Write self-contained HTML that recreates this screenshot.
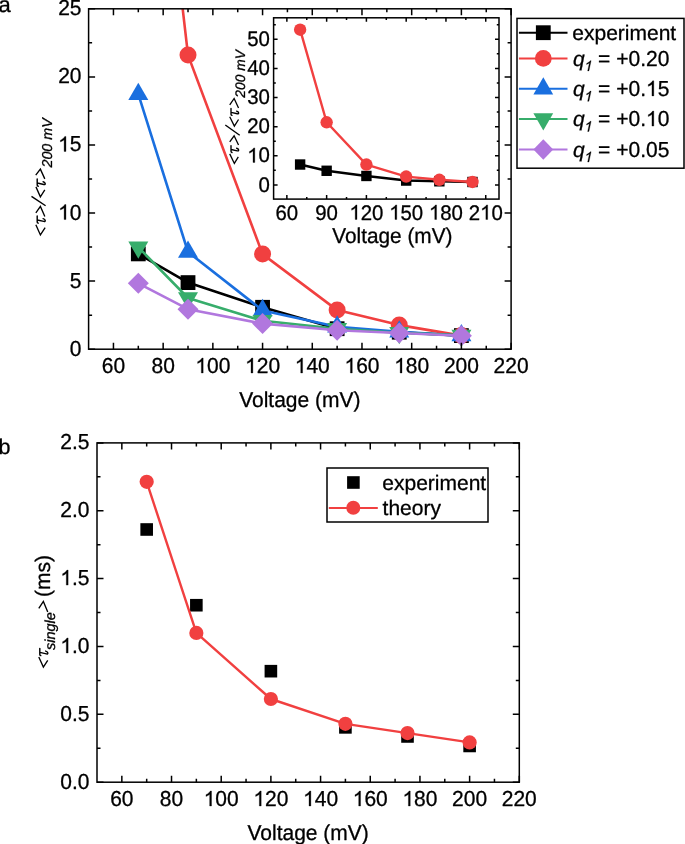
<!DOCTYPE html><html><head><meta charset="utf-8"><style>html,body{margin:0;padding:0;background:#fff;overflow:hidden}svg{display:block}</style></head><body>
<svg style="will-change:transform" width="685" height="844" viewBox="0 0 685 844" font-family='"Liberation Sans", sans-serif' text-rendering="geometricPrecision">
<style>text{stroke:#000;stroke-width:0.3px;stroke-linejoin:round}.o{stroke:#000;stroke-width:0.3px;stroke-linejoin:round}</style>
<rect width="685" height="844" fill="#fff"/>
<defs><clipPath id="ca"><rect x="88.6" y="8.8" width="422.5" height="340.4"/></clipPath></defs>
<g clip-path="url(#ca)">
<polyline points="138.31,253.89 188.01,282.6 262.57,307.3 337.13,328.7 399.26,332.2 461.39,335.6" fill="none" stroke="#000" stroke-width="2.6" stroke-linejoin="round" stroke-linecap="butt"/>
<rect x="130.91" y="246.49" width="14.8" height="14.8" fill="#000"/>
<rect x="180.61" y="275.2" width="14.8" height="14.8" fill="#000"/>
<rect x="255.17" y="299.9" width="14.8" height="14.8" fill="#000"/>
<rect x="329.73" y="321.3" width="14.8" height="14.8" fill="#000"/>
<rect x="391.86" y="324.8" width="14.8" height="14.8" fill="#000"/>
<rect x="453.99" y="328.2" width="14.8" height="14.8" fill="#000"/>
<polyline points="138.31,-376.53 188.01,55.1 262.57,254.1 337.13,310.1 399.26,325.1 461.39,335.6" fill="none" stroke="#F14040" stroke-width="2.6" stroke-linejoin="round" stroke-linecap="butt"/>
<circle cx="138.31" cy="-376.53" r="8.5" fill="#F14040"/>
<circle cx="188.01" cy="55.1" r="8.5" fill="#F14040"/>
<circle cx="262.57" cy="254.1" r="8.5" fill="#F14040"/>
<circle cx="337.13" cy="310.1" r="8.5" fill="#F14040"/>
<circle cx="399.26" cy="325.1" r="8.5" fill="#F14040"/>
<circle cx="461.39" cy="335.6" r="8.5" fill="#F14040"/>
<polyline points="138.31,94.2 188.01,252 262.57,310.4 337.13,326.7 399.26,331.7 461.39,335.6" fill="none" stroke="#1A6FDF" stroke-width="2.6" stroke-linejoin="round" stroke-linecap="butt"/>
<path d="M138.31 82.65L148.31 99.97L128.31 99.97Z" fill="#1A6FDF"/>
<path d="M188.01 240.45L198.01 257.77L178.01 257.77Z" fill="#1A6FDF"/>
<path d="M262.57 298.85L272.57 316.17L252.57 316.17Z" fill="#1A6FDF"/>
<path d="M337.13 315.15L347.13 332.47L327.13 332.47Z" fill="#1A6FDF"/>
<path d="M399.26 320.15L409.26 337.47L389.26 337.47Z" fill="#1A6FDF"/>
<path d="M461.39 324.05L471.39 341.37L451.39 341.37Z" fill="#1A6FDF"/>
<polyline points="138.31,247.2 188.01,298 262.57,320.8 337.13,328.8 399.26,332.8 461.39,335.4" fill="none" stroke="#37AD6B" stroke-width="2.6" stroke-linejoin="round" stroke-linecap="butt"/>
<path d="M138.31 258.75L148.31 241.43L128.31 241.43Z" fill="#37AD6B"/>
<path d="M188.01 309.55L198.01 292.23L178.01 292.23Z" fill="#37AD6B"/>
<path d="M262.57 332.35L272.57 315.03L252.57 315.03Z" fill="#37AD6B"/>
<path d="M337.13 340.35L347.13 323.03L327.13 323.03Z" fill="#37AD6B"/>
<path d="M399.26 344.35L409.26 327.03L389.26 327.03Z" fill="#37AD6B"/>
<path d="M461.39 346.95L471.39 329.63L451.39 329.63Z" fill="#37AD6B"/>
<polyline points="138.31,283.3 188.01,309.2 262.57,323.6 337.13,330.3 399.26,333 461.39,335.8" fill="none" stroke="#B177DE" stroke-width="2.6" stroke-linejoin="round" stroke-linecap="butt"/>
<path d="M138.31 272.8L148.81 283.3L138.31 293.8L127.81 283.3Z" fill="#B177DE"/>
<path d="M188.01 298.7L198.51 309.2L188.01 319.7L177.51 309.2Z" fill="#B177DE"/>
<path d="M262.57 313.1L273.07 323.6L262.57 334.1L252.07 323.6Z" fill="#B177DE"/>
<path d="M337.13 319.8L347.63 330.3L337.13 340.8L326.63 330.3Z" fill="#B177DE"/>
<path d="M399.26 322.5L409.76 333L399.26 343.5L388.76 333Z" fill="#B177DE"/>
<path d="M461.39 325.3L471.89 335.8L461.39 346.3L450.89 335.8Z" fill="#B177DE"/>
</g>
<rect x="88.6" y="8.8" width="422.5" height="340.4" fill="none" stroke="#000" stroke-width="1.5"/>
<path d="M113.45 349.2V342.7M113.45 8.8V15.3M163.16 349.2V342.7M163.16 8.8V15.3M212.86 349.2V342.7M212.86 8.8V15.3M262.57 349.2V342.7M262.57 8.8V15.3M312.28 349.2V342.7M312.28 8.8V15.3M361.98 349.2V342.7M361.98 8.8V15.3M411.69 349.2V342.7M411.69 8.8V15.3M461.39 349.2V342.7M461.39 8.8V15.3M511.1 349.2V342.7M511.1 8.8V15.3M138.31 349.2V345.7M138.31 8.8V12.3M188.01 349.2V345.7M188.01 8.8V12.3M237.72 349.2V345.7M237.72 8.8V12.3M287.42 349.2V345.7M287.42 8.8V12.3M337.13 349.2V345.7M337.13 8.8V12.3M386.84 349.2V345.7M386.84 8.8V12.3M436.54 349.2V345.7M436.54 8.8V12.3M486.25 349.2V345.7M486.25 8.8V12.3M88.6 349.2H95.1M511.1 349.2H504.6M88.6 281.12H95.1M511.1 281.12H504.6M88.6 213.04H95.1M511.1 213.04H504.6M88.6 144.96H95.1M511.1 144.96H504.6M88.6 76.88H95.1M511.1 76.88H504.6M88.6 8.8H95.1M511.1 8.8H504.6M88.6 315.16H92.1M511.1 315.16H507.6M88.6 247.08H92.1M511.1 247.08H507.6M88.6 179H92.1M511.1 179H507.6M88.6 110.92H92.1M511.1 110.92H507.6M88.6 42.84H92.1M511.1 42.84H507.6" stroke="#000" stroke-width="1.5" fill="none"/>
<g transform="translate(0 373) scale(1 1.035) translate(0 -373)">
<text x="101.77" y="373" font-size="21" xml:space="preserve">60</text>
</g>
<g transform="translate(0 373) scale(1 1.035) translate(0 -373)">
<text x="151.48" y="373" font-size="21" xml:space="preserve">80</text>
</g>
<g transform="translate(0 373) scale(1 1.035) translate(0 -373)">
<text x="195.35" y="373" font-size="21" xml:space="preserve"> 00</text>
</g>
<path d="M583 1147Q518 1085 412.5 1023Q307 961 223 930L223 1104Q374 1175 486 1274Q598 1373 646 1466L763 1466L763 0L583 0Z" transform="translate(195.35 373) scale(0.01025 -0.01025)" fill="#000" class="o" vector-effect="non-scaling-stroke"/>
<g transform="translate(0 373) scale(1 1.035) translate(0 -373)">
<text x="245.05" y="373" font-size="21" xml:space="preserve"> 20</text>
</g>
<path d="M583 1147Q518 1085 412.5 1023Q307 961 223 930L223 1104Q374 1175 486 1274Q598 1373 646 1466L763 1466L763 0L583 0Z" transform="translate(245.05 373) scale(0.01025 -0.01025)" fill="#000" class="o" vector-effect="non-scaling-stroke"/>
<g transform="translate(0 373) scale(1 1.035) translate(0 -373)">
<text x="294.76" y="373" font-size="21" xml:space="preserve"> 40</text>
</g>
<path d="M583 1147Q518 1085 412.5 1023Q307 961 223 930L223 1104Q374 1175 486 1274Q598 1373 646 1466L763 1466L763 0L583 0Z" transform="translate(294.76 373) scale(0.01025 -0.01025)" fill="#000" class="o" vector-effect="non-scaling-stroke"/>
<g transform="translate(0 373) scale(1 1.035) translate(0 -373)">
<text x="344.46" y="373" font-size="21" xml:space="preserve"> 60</text>
</g>
<path d="M583 1147Q518 1085 412.5 1023Q307 961 223 930L223 1104Q374 1175 486 1274Q598 1373 646 1466L763 1466L763 0L583 0Z" transform="translate(344.46 373) scale(0.01025 -0.01025)" fill="#000" class="o" vector-effect="non-scaling-stroke"/>
<g transform="translate(0 373) scale(1 1.035) translate(0 -373)">
<text x="394.17" y="373" font-size="21" xml:space="preserve"> 80</text>
</g>
<path d="M583 1147Q518 1085 412.5 1023Q307 961 223 930L223 1104Q374 1175 486 1274Q598 1373 646 1466L763 1466L763 0L583 0Z" transform="translate(394.17 373) scale(0.01025 -0.01025)" fill="#000" class="o" vector-effect="non-scaling-stroke"/>
<g transform="translate(0 373) scale(1 1.035) translate(0 -373)">
<text x="443.88" y="373" font-size="21" xml:space="preserve">200</text>
</g>
<g transform="translate(0 373) scale(1 1.035) translate(0 -373)">
<text x="493.58" y="373" font-size="21" xml:space="preserve">220</text>
</g>
<g transform="translate(0 355.7) scale(1 1.035) translate(0 -355.7)">
<text x="69.82" y="355.7" font-size="21" xml:space="preserve">0</text>
</g>
<g transform="translate(0 287.62) scale(1 1.035) translate(0 -287.62)">
<text x="69.82" y="287.62" font-size="21" xml:space="preserve">5</text>
</g>
<g transform="translate(0 219.54) scale(1 1.035) translate(0 -219.54)">
<text x="58.14" y="219.54" font-size="21" xml:space="preserve"> 0</text>
</g>
<path d="M583 1147Q518 1085 412.5 1023Q307 961 223 930L223 1104Q374 1175 486 1274Q598 1373 646 1466L763 1466L763 0L583 0Z" transform="translate(58.14 219.54) scale(0.01025 -0.01025)" fill="#000" class="o" vector-effect="non-scaling-stroke"/>
<g transform="translate(0 151.46) scale(1 1.035) translate(0 -151.46)">
<text x="58.14" y="151.46" font-size="21" xml:space="preserve"> 5</text>
</g>
<path d="M583 1147Q518 1085 412.5 1023Q307 961 223 930L223 1104Q374 1175 486 1274Q598 1373 646 1466L763 1466L763 0L583 0Z" transform="translate(58.14 151.46) scale(0.01025 -0.01025)" fill="#000" class="o" vector-effect="non-scaling-stroke"/>
<g transform="translate(0 83.38) scale(1 1.035) translate(0 -83.38)">
<text x="58.14" y="83.38" font-size="21" xml:space="preserve">20</text>
</g>
<g transform="translate(0 15.3) scale(1 1.035) translate(0 -15.3)">
<text x="58.14" y="15.3" font-size="21" xml:space="preserve">25</text>
</g>
<g transform="translate(0 406.5) scale(1 1.03) translate(0 -406.5)">
<text x="299.85" y="406.5" font-size="21" text-anchor="middle">Voltage (mV)</text>
</g>
<rect x="273.6" y="17.8" width="225.39999999999998" height="181.29999999999998" fill="#fff"/>
<polyline points="300.12,164.52 326.64,170.78 366.41,175.96 406.19,180.56 439.34,181.29 472.48,181.99" fill="none" stroke="#000" stroke-width="2.4" stroke-linejoin="round" stroke-linecap="butt"/>
<rect x="294.92" y="159.32" width="10.4" height="10.4" fill="#000"/>
<rect x="321.44" y="165.58" width="10.4" height="10.4" fill="#000"/>
<rect x="361.21" y="170.76" width="10.4" height="10.4" fill="#000"/>
<rect x="400.99" y="175.36" width="10.4" height="10.4" fill="#000"/>
<rect x="434.14" y="176.09" width="10.4" height="10.4" fill="#000"/>
<rect x="467.28" y="176.79" width="10.4" height="10.4" fill="#000"/>
<polyline points="300.12,29.69 326.64,122.29 366.41,164.57 406.19,176.57 439.34,179.8 472.48,181.99" fill="none" stroke="#F14040" stroke-width="2.4" stroke-linejoin="round" stroke-linecap="butt"/>
<circle cx="300.12" cy="29.69" r="6.2" fill="#F14040"/>
<circle cx="326.64" cy="122.29" r="6.2" fill="#F14040"/>
<circle cx="366.41" cy="164.57" r="6.2" fill="#F14040"/>
<circle cx="406.19" cy="176.57" r="6.2" fill="#F14040"/>
<circle cx="439.34" cy="179.8" r="6.2" fill="#F14040"/>
<circle cx="472.48" cy="181.99" r="6.2" fill="#F14040"/>
<rect x="273.6" y="17.8" width="225.4" height="181.3" fill="none" stroke="#000" stroke-width="1.5"/>
<path d="M286.86 199.1V195.1M286.86 17.8V21.8M326.64 199.1V195.1M326.64 17.8V21.8M366.41 199.1V195.1M366.41 17.8V21.8M406.19 199.1V195.1M406.19 17.8V21.8M445.96 199.1V195.1M445.96 17.8V21.8M485.74 199.1V195.1M485.74 17.8V21.8M306.75 199.1V196.9M306.75 17.8V20M346.52 199.1V196.9M346.52 17.8V20M386.3 199.1V196.9M386.3 17.8V20M426.08 199.1V196.9M426.08 17.8V20M465.85 199.1V196.9M465.85 17.8V20M273.6 184.9H277.6M499 184.9H495M273.6 155.78H277.6M499 155.78H495M273.6 126.66H277.6M499 126.66H495M273.6 97.54H277.6M499 97.54H495M273.6 68.42H277.6M499 68.42H495M273.6 39.3H277.6M499 39.3H495M273.6 170.34H275.8M499 170.34H496.8M273.6 141.22H275.8M499 141.22H496.8M273.6 112.1H275.8M499 112.1H496.8M273.6 82.98H275.8M499 82.98H496.8M273.6 53.86H275.8M499 53.86H496.8M273.6 24.74H275.8M499 24.74H496.8" stroke="#000" stroke-width="1.5" fill="none"/>
<g transform="translate(0 219.5) scale(1 1.035) translate(0 -219.5)">
<text x="275.51" y="219.5" font-size="20.4" xml:space="preserve">60</text>
</g>
<g transform="translate(0 219.5) scale(1 1.035) translate(0 -219.5)">
<text x="315.29" y="219.5" font-size="20.4" xml:space="preserve">90</text>
</g>
<g transform="translate(0 219.5) scale(1 1.035) translate(0 -219.5)">
<text x="349.39" y="219.5" font-size="20.4" xml:space="preserve"> 20</text>
</g>
<path d="M583 1147Q518 1085 412.5 1023Q307 961 223 930L223 1104Q374 1175 486 1274Q598 1373 646 1466L763 1466L763 0L583 0Z" transform="translate(349.39 219.5) scale(0.00996 -0.00996)" fill="#000" class="o" vector-effect="non-scaling-stroke"/>
<g transform="translate(0 219.5) scale(1 1.035) translate(0 -219.5)">
<text x="389.17" y="219.5" font-size="20.4" xml:space="preserve"> 50</text>
</g>
<path d="M583 1147Q518 1085 412.5 1023Q307 961 223 930L223 1104Q374 1175 486 1274Q598 1373 646 1466L763 1466L763 0L583 0Z" transform="translate(389.17 219.5) scale(0.00996 -0.00996)" fill="#000" class="o" vector-effect="non-scaling-stroke"/>
<g transform="translate(0 219.5) scale(1 1.035) translate(0 -219.5)">
<text x="428.95" y="219.5" font-size="20.4" xml:space="preserve"> 80</text>
</g>
<path d="M583 1147Q518 1085 412.5 1023Q307 961 223 930L223 1104Q374 1175 486 1274Q598 1373 646 1466L763 1466L763 0L583 0Z" transform="translate(428.95 219.5) scale(0.00996 -0.00996)" fill="#000" class="o" vector-effect="non-scaling-stroke"/>
<g transform="translate(0 219.5) scale(1 1.035) translate(0 -219.5)">
<text x="468.72" y="219.5" font-size="20.4" xml:space="preserve">2 0</text>
</g>
<path d="M583 1147Q518 1085 412.5 1023Q307 961 223 930L223 1104Q374 1175 486 1274Q598 1373 646 1466L763 1466L763 0L583 0Z" transform="translate(480.07 219.5) scale(0.00996 -0.00996)" fill="#000" class="o" vector-effect="non-scaling-stroke"/>
<g transform="translate(0 191.6) scale(1 1.035) translate(0 -191.6)">
<text x="258.55" y="191.6" font-size="20.4" xml:space="preserve">0</text>
</g>
<g transform="translate(0 162.48) scale(1 1.035) translate(0 -162.48)">
<text x="247.21" y="162.48" font-size="20.4" xml:space="preserve"> 0</text>
</g>
<path d="M583 1147Q518 1085 412.5 1023Q307 961 223 930L223 1104Q374 1175 486 1274Q598 1373 646 1466L763 1466L763 0L583 0Z" transform="translate(247.21 162.48) scale(0.00996 -0.00996)" fill="#000" class="o" vector-effect="non-scaling-stroke"/>
<g transform="translate(0 133.36) scale(1 1.035) translate(0 -133.36)">
<text x="247.21" y="133.36" font-size="20.4" xml:space="preserve">20</text>
</g>
<g transform="translate(0 104.24) scale(1 1.035) translate(0 -104.24)">
<text x="247.21" y="104.24" font-size="20.4" xml:space="preserve">30</text>
</g>
<g transform="translate(0 75.12) scale(1 1.035) translate(0 -75.12)">
<text x="247.21" y="75.12" font-size="20.4" xml:space="preserve">40</text>
</g>
<g transform="translate(0 46) scale(1 1.035) translate(0 -46)">
<text x="247.21" y="46" font-size="20.4" xml:space="preserve">50</text>
</g>
<g transform="translate(0 242.9) scale(1 1.03) translate(0 -242.9)">
<text x="392.4" y="242.9" font-size="20.8" text-anchor="middle">Voltage (mV)</text>
</g>
<rect x="517" y="18.4" width="167" height="149.8" fill="#fff" stroke="#000" stroke-width="1.5"/>
<line x1="518.9" y1="32.7" x2="567.5" y2="32.7" stroke="#000" stroke-width="2"/>
<rect x="535.9" y="25.3" width="14.8" height="14.8" fill="#000"/>
<text x="572.3" y="39.8" font-size="21" text-anchor="start">experiment</text>
<line x1="518.9" y1="58.4" x2="567.5" y2="58.4" stroke="#F14040" stroke-width="2"/>
<circle cx="543.3" cy="58.4" r="8.4" fill="#F14040"/>
<text x="573" y="65.5" font-size="21" text-anchor="start" font-style="italic">q</text>
<path d="M583 1147Q518 1085 412.5 1023Q307 961 223 930L223 1104Q374 1175 486 1274Q598 1373 646 1466L763 1466L763 0L583 0Z" transform="translate(583.6 70.9) skewX(-12) scale(0.00698 -0.00698)" fill="#000" class="o" vector-effect="non-scaling-stroke"/>
<g transform="translate(0 65.5) scale(1 1.035) translate(0 -65.5)">
<text x="598.1" y="65.5" font-size="21" xml:space="preserve">= +0.20</text>
</g>
<line x1="518.9" y1="88.8" x2="567.5" y2="88.8" stroke="#1A6FDF" stroke-width="2"/>
<path d="M543.3 77.37L553.2 94.52L533.4 94.52Z" fill="#1A6FDF"/>
<text x="573" y="95.9" font-size="21" text-anchor="start" font-style="italic">q</text>
<path d="M583 1147Q518 1085 412.5 1023Q307 961 223 930L223 1104Q374 1175 486 1274Q598 1373 646 1466L763 1466L763 0L583 0Z" transform="translate(583.6 101.3) skewX(-12) scale(0.00698 -0.00698)" fill="#000" class="o" vector-effect="non-scaling-stroke"/>
<g transform="translate(0 95.9) scale(1 1.035) translate(0 -95.9)">
<text x="598.1" y="95.9" font-size="21" xml:space="preserve">= +0. 5</text>
</g>
<path d="M583 1147Q518 1085 412.5 1023Q307 961 223 930L223 1104Q374 1175 486 1274Q598 1373 646 1466L763 1466L763 0L583 0Z" transform="translate(645.98 95.9) scale(0.01025 -0.01025)" fill="#000" class="o" vector-effect="non-scaling-stroke"/>
<line x1="518.9" y1="119.0" x2="567.5" y2="119.0" stroke="#37AD6B" stroke-width="2"/>
<path d="M543.3 130.43L553.2 113.28L533.4 113.28Z" fill="#37AD6B"/>
<text x="573" y="126.1" font-size="21" text-anchor="start" font-style="italic">q</text>
<path d="M583 1147Q518 1085 412.5 1023Q307 961 223 930L223 1104Q374 1175 486 1274Q598 1373 646 1466L763 1466L763 0L583 0Z" transform="translate(583.6 131.5) skewX(-12) scale(0.00698 -0.00698)" fill="#000" class="o" vector-effect="non-scaling-stroke"/>
<g transform="translate(0 126.1) scale(1 1.035) translate(0 -126.1)">
<text x="598.1" y="126.1" font-size="21" xml:space="preserve">= +0. 0</text>
</g>
<path d="M583 1147Q518 1085 412.5 1023Q307 961 223 930L223 1104Q374 1175 486 1274Q598 1373 646 1466L763 1466L763 0L583 0Z" transform="translate(645.98 126.1) scale(0.01025 -0.01025)" fill="#000" class="o" vector-effect="non-scaling-stroke"/>
<line x1="518.9" y1="149.5" x2="567.5" y2="149.5" stroke="#B177DE" stroke-width="2"/>
<path d="M543.3 139.2L553.2 149.5L543.3 159.8L533.4 149.5Z" fill="#B177DE"/>
<text x="573" y="156.6" font-size="21" text-anchor="start" font-style="italic">q</text>
<path d="M583 1147Q518 1085 412.5 1023Q307 961 223 930L223 1104Q374 1175 486 1274Q598 1373 646 1466L763 1466L763 0L583 0Z" transform="translate(583.6 162) skewX(-12) scale(0.00698 -0.00698)" fill="#000" class="o" vector-effect="non-scaling-stroke"/>
<g transform="translate(0 156.6) scale(1 1.035) translate(0 -156.6)">
<text x="598.1" y="156.6" font-size="21" xml:space="preserve">= +0.05</text>
</g>
<rect x="140.38" y="523.19" width="12.6" height="12.6" fill="#000"/>
<rect x="190.06" y="598.92" width="12.6" height="12.6" fill="#000"/>
<rect x="264.59" y="664.88" width="12.6" height="12.6" fill="#000"/>
<rect x="339.11" y="721.07" width="12.6" height="12.6" fill="#000"/>
<rect x="401.21" y="730.16" width="12.6" height="12.6" fill="#000"/>
<rect x="463.32" y="739.66" width="12.6" height="12.6" fill="#000"/>
<polyline points="146.68,481.85 196.36,632.91 270.89,699 345.41,723.84 407.51,733.07 469.62,742.43" fill="none" stroke="#F14040" stroke-width="2.4" stroke-linejoin="round" stroke-linecap="butt"/>
<circle cx="146.68" cy="481.85" r="7.1" fill="#F14040"/>
<circle cx="196.36" cy="632.91" r="7.1" fill="#F14040"/>
<circle cx="270.89" cy="699" r="7.1" fill="#F14040"/>
<circle cx="345.41" cy="723.84" r="7.1" fill="#F14040"/>
<circle cx="407.51" cy="733.07" r="7.1" fill="#F14040"/>
<circle cx="469.62" cy="742.43" r="7.1" fill="#F14040"/>
<rect x="97" y="442.9" width="422.3" height="339.3" fill="none" stroke="#000" stroke-width="1.5"/>
<path d="M121.84 782.2V775.7M121.84 442.9V449.4M171.52 782.2V775.7M171.52 442.9V449.4M221.21 782.2V775.7M221.21 442.9V449.4M270.89 782.2V775.7M270.89 442.9V449.4M320.57 782.2V775.7M320.57 442.9V449.4M370.25 782.2V775.7M370.25 442.9V449.4M419.94 782.2V775.7M419.94 442.9V449.4M469.62 782.2V775.7M469.62 442.9V449.4M519.3 782.2V775.7M519.3 442.9V449.4M146.68 782.2V778.7M146.68 442.9V446.4M196.36 782.2V778.7M196.36 442.9V446.4M246.05 782.2V778.7M246.05 442.9V446.4M295.73 782.2V778.7M295.73 442.9V446.4M345.41 782.2V778.7M345.41 442.9V446.4M395.09 782.2V778.7M395.09 442.9V446.4M444.78 782.2V778.7M444.78 442.9V446.4M494.46 782.2V778.7M494.46 442.9V446.4M97 782.2H103.5M519.3 782.2H512.8M97 714.34H103.5M519.3 714.34H512.8M97 646.48H103.5M519.3 646.48H512.8M97 578.62H103.5M519.3 578.62H512.8M97 510.76H103.5M519.3 510.76H512.8M97 442.9H103.5M519.3 442.9H512.8M97 748.27H100.5M519.3 748.27H515.8M97 680.41H100.5M519.3 680.41H515.8M97 612.55H100.5M519.3 612.55H515.8M97 544.69H100.5M519.3 544.69H515.8M97 476.83H100.5M519.3 476.83H515.8" stroke="#000" stroke-width="1.5" fill="none"/>
<g transform="translate(0 806) scale(1 1.035) translate(0 -806)">
<text x="110.16" y="806" font-size="21" xml:space="preserve">60</text>
</g>
<g transform="translate(0 806) scale(1 1.035) translate(0 -806)">
<text x="159.84" y="806" font-size="21" xml:space="preserve">80</text>
</g>
<g transform="translate(0 806) scale(1 1.035) translate(0 -806)">
<text x="203.69" y="806" font-size="21" xml:space="preserve"> 00</text>
</g>
<path d="M583 1147Q518 1085 412.5 1023Q307 961 223 930L223 1104Q374 1175 486 1274Q598 1373 646 1466L763 1466L763 0L583 0Z" transform="translate(203.69 806) scale(0.01025 -0.01025)" fill="#000" class="o" vector-effect="non-scaling-stroke"/>
<g transform="translate(0 806) scale(1 1.035) translate(0 -806)">
<text x="253.37" y="806" font-size="21" xml:space="preserve"> 20</text>
</g>
<path d="M583 1147Q518 1085 412.5 1023Q307 961 223 930L223 1104Q374 1175 486 1274Q598 1373 646 1466L763 1466L763 0L583 0Z" transform="translate(253.37 806) scale(0.01025 -0.01025)" fill="#000" class="o" vector-effect="non-scaling-stroke"/>
<g transform="translate(0 806) scale(1 1.035) translate(0 -806)">
<text x="303.05" y="806" font-size="21" xml:space="preserve"> 40</text>
</g>
<path d="M583 1147Q518 1085 412.5 1023Q307 961 223 930L223 1104Q374 1175 486 1274Q598 1373 646 1466L763 1466L763 0L583 0Z" transform="translate(303.05 806) scale(0.01025 -0.01025)" fill="#000" class="o" vector-effect="non-scaling-stroke"/>
<g transform="translate(0 806) scale(1 1.035) translate(0 -806)">
<text x="352.73" y="806" font-size="21" xml:space="preserve"> 60</text>
</g>
<path d="M583 1147Q518 1085 412.5 1023Q307 961 223 930L223 1104Q374 1175 486 1274Q598 1373 646 1466L763 1466L763 0L583 0Z" transform="translate(352.73 806) scale(0.01025 -0.01025)" fill="#000" class="o" vector-effect="non-scaling-stroke"/>
<g transform="translate(0 806) scale(1 1.035) translate(0 -806)">
<text x="402.42" y="806" font-size="21" xml:space="preserve"> 80</text>
</g>
<path d="M583 1147Q518 1085 412.5 1023Q307 961 223 930L223 1104Q374 1175 486 1274Q598 1373 646 1466L763 1466L763 0L583 0Z" transform="translate(402.42 806) scale(0.01025 -0.01025)" fill="#000" class="o" vector-effect="non-scaling-stroke"/>
<g transform="translate(0 806) scale(1 1.035) translate(0 -806)">
<text x="452.1" y="806" font-size="21" xml:space="preserve">200</text>
</g>
<g transform="translate(0 806) scale(1 1.035) translate(0 -806)">
<text x="501.78" y="806" font-size="21" xml:space="preserve">220</text>
</g>
<g transform="translate(0 788.7) scale(1 1.035) translate(0 -788.7)">
<text x="60.31" y="788.7" font-size="21" xml:space="preserve">0.0</text>
</g>
<g transform="translate(0 720.84) scale(1 1.035) translate(0 -720.84)">
<text x="60.31" y="720.84" font-size="21" xml:space="preserve">0.5</text>
</g>
<g transform="translate(0 652.98) scale(1 1.035) translate(0 -652.98)">
<text x="60.31" y="652.98" font-size="21" xml:space="preserve"> .0</text>
</g>
<path d="M583 1147Q518 1085 412.5 1023Q307 961 223 930L223 1104Q374 1175 486 1274Q598 1373 646 1466L763 1466L763 0L583 0Z" transform="translate(60.31 652.98) scale(0.01025 -0.01025)" fill="#000" class="o" vector-effect="non-scaling-stroke"/>
<g transform="translate(0 585.12) scale(1 1.035) translate(0 -585.12)">
<text x="60.31" y="585.12" font-size="21" xml:space="preserve"> .5</text>
</g>
<path d="M583 1147Q518 1085 412.5 1023Q307 961 223 930L223 1104Q374 1175 486 1274Q598 1373 646 1466L763 1466L763 0L583 0Z" transform="translate(60.31 585.12) scale(0.01025 -0.01025)" fill="#000" class="o" vector-effect="non-scaling-stroke"/>
<g transform="translate(0 517.26) scale(1 1.035) translate(0 -517.26)">
<text x="60.31" y="517.26" font-size="21" xml:space="preserve">2.0</text>
</g>
<g transform="translate(0 449.4) scale(1 1.035) translate(0 -449.4)">
<text x="60.31" y="449.4" font-size="21" xml:space="preserve">2.5</text>
</g>
<g transform="translate(0 839.6) scale(1 1.03) translate(0 -839.6)">
<text x="308.15" y="839.6" font-size="21" text-anchor="middle">Voltage (mV)</text>
</g>
<rect x="327" y="468" width="161" height="54" fill="#fff" stroke="#000" stroke-width="1.5"/>
<rect x="347.1" y="476.2" width="12.6" height="12.6" fill="#000"/>
<line x1="328.8" y1="507.9" x2="377.8" y2="507.9" stroke="#F14040" stroke-width="2"/>
<circle cx="353.3" cy="507.8" r="7" fill="#F14040"/>
<text x="382.3" y="490" font-size="21" text-anchor="start">experiment</text>
<text x="382.6" y="515" font-size="21" text-anchor="start">theory</text>
<text x="-1.4" y="12.3" font-size="22" text-anchor="start">a</text>
<text x="-1.6" y="453.5" font-size="21.5" text-anchor="start">b</text>
<g transform="translate(47.4,237.25) rotate(-90)">
<polyline points="12.6,-11.55 2.3,-7 9.6,-2.25" fill="none" stroke="#000" stroke-width="1.35" stroke-linejoin="miter" stroke-miterlimit="10"/>
<path d="M14.1 -9.2Q14.35 -10.2 15.3 -10.2L21.35 -10.2M17.3 -10.1L15.85 -3.6Q15.45 -2 16.8 -2.2Q18.1 -2.4 18.6 -4.3" fill="none" stroke="#000" stroke-width="1.45" stroke-linecap="round" stroke-linejoin="round"/>
<polyline points="24.3,-11.55 30.8,-7 20.7,-2.55" fill="none" stroke="#000" stroke-width="1.35" stroke-linejoin="miter" stroke-miterlimit="10"/>
<line x1="31.5" y1="-1.8" x2="40.8" y2="-15.9" stroke="#000" stroke-width="1.45"/>
<polyline points="50.4,-11.45 40.5,-7.03 47.3,-2.6" fill="none" stroke="#000" stroke-width="1.35" stroke-linejoin="miter" stroke-miterlimit="10"/>
<path d="M51 -9.2Q51.25 -10.2 52.2 -10.2L58.25 -10.2M54.2 -10.1L52.75 -3.6Q52.35 -2 53.7 -2.2Q55 -2.4 55.5 -4.3" fill="none" stroke="#000" stroke-width="1.45" stroke-linecap="round" stroke-linejoin="round"/>
<polyline points="62.1,-11.65 68.1,-7.03 58.4,-2.6" fill="none" stroke="#000" stroke-width="1.35" stroke-linejoin="miter" stroke-miterlimit="10"/>
<text x="69.7" y="4.1" font-size="14.3" font-style="italic">200 mV</text>
</g>
<g transform="translate(240.7,166) rotate(-90)">
<polyline points="12.13,-10.97 2.59,-6.34 9.2,-2.39" fill="none" stroke="#000" stroke-width="1.3" stroke-linejoin="miter" stroke-miterlimit="10"/>
<path d="M13.5 -8.74Q13.73 -9.69 14.63 -9.69L20.38 -9.69M16.54 -9.59L15.16 -3.42Q14.78 -1.9 16.06 -2.09Q17.3 -2.28 17.77 -4.08" fill="none" stroke="#000" stroke-width="1.38" stroke-linecap="round" stroke-linejoin="round"/>
<polyline points="24.06,-10.97 30.22,-6.57 20.91,-2.16" fill="none" stroke="#000" stroke-width="1.3" stroke-linejoin="miter" stroke-miterlimit="10"/>
<line x1="30.8" y1="-1.0" x2="41.0" y2="-15.4" stroke="#000" stroke-width="1.4"/>
<polyline points="49.23,-10.97 39.91,-6.34 46.52,-2.16" fill="none" stroke="#000" stroke-width="1.3" stroke-linejoin="miter" stroke-miterlimit="10"/>
<path d="M50.59 -8.74Q50.83 -9.69 51.73 -9.69L57.48 -9.69M53.63 -9.59L52.26 -3.42Q51.88 -1.9 53.16 -2.09Q54.39 -2.28 54.87 -4.08" fill="none" stroke="#000" stroke-width="1.38" stroke-linecap="round" stroke-linejoin="round"/>
<polyline points="61.16,-10.97 67.54,-6.57 58.01,-2.16" fill="none" stroke="#000" stroke-width="1.3" stroke-linejoin="miter" stroke-miterlimit="10"/>
<text x="68.3" y="4.6" font-size="13.8" font-style="italic">200 mV</text>
</g>
<g transform="translate(50,669.5) rotate(-90)">
<polyline points="12.55,-11.2 2.35,-6.64 9.15,-2.26" fill="none" stroke="#000" stroke-width="1.35" stroke-linejoin="miter" stroke-miterlimit="10"/>
<path d="M13.9 -9.2Q14.15 -10.2 15.1 -10.2L21.15 -10.2M17.1 -10.1L15.65 -3.6Q15.25 -2 16.6 -2.2Q17.9 -2.4 18.4 -4.3" fill="none" stroke="#000" stroke-width="1.45" stroke-linecap="round" stroke-linejoin="round"/>
<text x="19.5" y="4.6" font-size="14.5" font-style="italic">single</text>
<polyline points="61.2,-11.2 68.05,-6.64 57.6,-2.26" fill="none" stroke="#000" stroke-width="1.35" stroke-linejoin="miter" stroke-miterlimit="10"/>
<text x="72.4" y="0" font-size="21">(ms)</text>
</g>
</svg></body></html>
